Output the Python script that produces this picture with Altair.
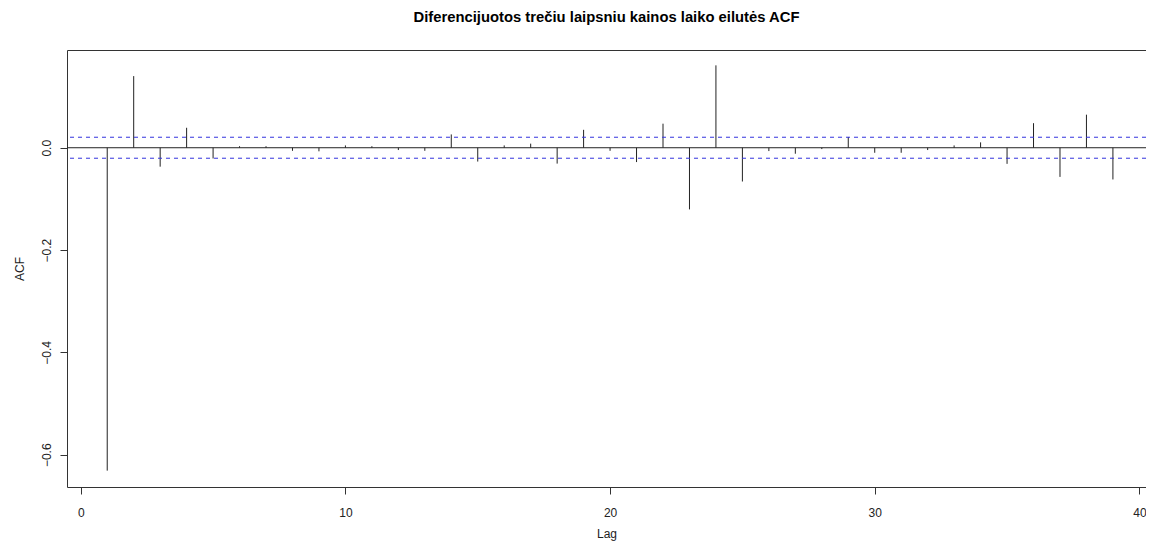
import altair as alt
import pandas as pd

lags = list(range(1, 40))
acf_values = [
    -0.631, 0.140, -0.037, 0.039, -0.021, 0.003, 0.003, -0.006, -0.007, 0.0045,
    0.003, -0.0045, -0.006, 0.026, -0.027, 0.0045, 0.008, -0.031, 0.035, -0.006,
    -0.028, 0.047, -0.1205, 0.161, -0.066, -0.0065, -0.0117, -0.0026, 0.021, -0.0098,
    -0.0098, -0.0045, 0.0045, 0.0105, -0.0315, 0.048, -0.057, 0.0646, -0.062,
]
ci_levels = [0.0205, -0.0205]
x_ticks = [0, 10, 20, 30, 40]
y_ticks = [0.0, -0.2, -0.4, -0.6]

df = pd.DataFrame({"lag": lags, "acf": acf_values, "zero": [0.0] * len(lags)})
ci_df = pd.DataFrame({"ci": ci_levels})
zero_df = pd.DataFrame({"z": [0.0]})

FONT = "Liberation Sans"
xscale = alt.Scale(domain=[-0.52, 40.25], nice=False, zero=False)
yscale = alt.Scale(domain=[-0.663, 0.191], nice=False, zero=False)

bars = alt.Chart(df).mark_rule(color="#222222", strokeWidth=1).encode(
    x=alt.X("lag:Q", scale=xscale,
            axis=alt.Axis(values=x_ticks, title="Lag", format="d", labelPadding=13,
                          titleY=50, titleBaseline="alphabetic", titleAnchor="middle")),
    y=alt.Y("zero:Q", scale=yscale,
            axis=alt.Axis(values=y_ticks, title="ACF", format=".1f", labelPadding=7,
                          labelAngle=270, labelAlign="center", labelBaseline="bottom",
                          titleX=-44, titleY=218.5, titleAngle=270,
                          titleAlign="center", titleBaseline="alphabetic")),
    y2="acf:Q",
)

zero_line = alt.Chart(zero_df).mark_rule(color="#222222", strokeWidth=1).encode(
    y=alt.Y("z:Q", scale=yscale)
)

ci_lines = alt.Chart(ci_df).mark_rule(color="#3333dd", strokeWidth=1, strokeDash=[4, 4]).encode(
    y=alt.Y("ci:Q", scale=yscale)
)

chart = (
    alt.layer(bars, zero_line, ci_lines)
    .properties(
        width=1079,
        height=437,
        title=alt.TitleParams(
            "Diferencijuotos trečiu laipsniu kainos laiko eilutės ACF",
            fontSize=14.8, fontWeight="bold", font=FONT, color="#000000",
            anchor="middle", offset=25,
        ),
        autosize=alt.AutoSizeParams(type="none"),
        padding={"left": 59, "top": 42, "right": 0, "bottom": 56},
    )
    .configure_view(stroke="#333333", strokeWidth=1)
    .configure_axis(
        grid=False, domain=False, ticks=True, tickSize=7, tickColor="#333333",
        labelFont=FONT, labelFontSize=12, labelColor="#222222",
        titleFont=FONT, titleFontSize=12, titleColor="#222222", titleFontWeight="normal",
    )
)

chart.save("out.html", embed_options={"renderer": "svg", "actions": False})
